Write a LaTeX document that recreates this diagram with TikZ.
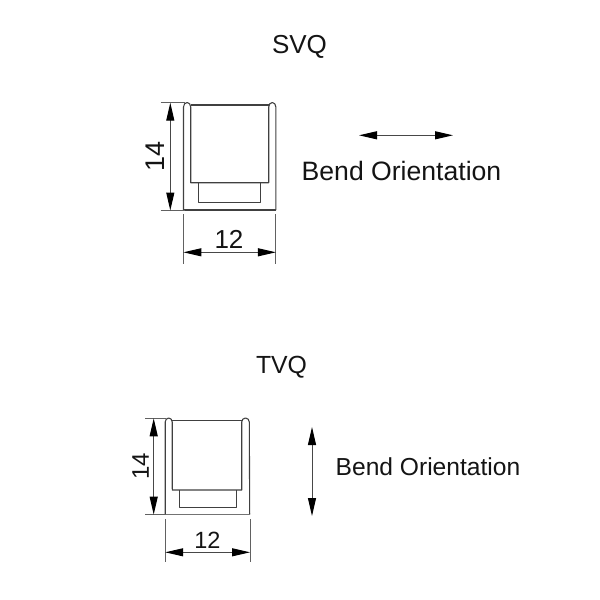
\documentclass[tikz,border=0pt]{standalone}
\usepackage{fontspec}
\setmainfont{Liberation Sans}
\usetikzlibrary{arrows.meta}
\tikzset{
 part/.style={draw=black!75,line width=1.1pt,line join=round},
 thin part/.style={draw=black!55,line width=0.9pt},
 ext/.style={draw=black!62,line width=0.9pt},
 dim/.style={draw=black!72,line width=1pt,{Stealth[length=18pt,width=8pt,inset=0pt,black]}-{Stealth[length=18pt,width=8pt,inset=0pt,black]}},
 lab/.style={text=black!92,inner sep=0pt,font=\fontsize{#1}{#1}\selectfont},
}
\begin{document}
\begin{tikzpicture}[x=1pt,y=-1pt]
\useasboundingbox (0,0) rectangle (600,600);
% --- SVQ ---
\node[lab=26] (title1) at (299.5,46.5) {SVQ};
\path[part] (183.5,210) -- (183.5,107) arc[start angle=180,end angle=360,x radius=3.6,y radius=4.5] -- (190.7,182.7) -- (268.7,182.7) -- (268.7,107) arc[start angle=180,end angle=360,x radius=3.6,y radius=4.5] -- (275.9,210);
\draw[part] (190.7,105) -- (268.7,105);
\draw[part] (198.3,182.7) -- (198.3,202.7) -- (260.7,202.7) -- (260.7,182.7);
\draw[part] (183.5,210) -- (275.9,210);
\coordinate (a1) at (170.3,102.7); \coordinate (a2) at (170.3,210.5);
\coordinate (b1) at (183.4,252.3); \coordinate (b2) at (275.9,252.3);
\draw[ext] (160.7,102.7) -- (185,102.7);
\draw[ext] (160.7,210.5) -- (185,210.5);
\draw[ext] (183.4,214) -- (183.4,263.5);
\draw[ext] (275.9,214) -- (275.9,263.5);
\draw[dim] (a1) -- (a2);
\draw[dim] (b1) -- (b2);
\node[lab=27,rotate=90] (h1) at (155.5,156.5) {14};
\node[lab=26] (w1) at (229,239.5) {12};
\coordinate (c1) at (359,135.3); \coordinate (c2) at (453,135.3);
\draw[dim] (c1) -- (c2);
\node[lab=26.6] (bend1) at (401.5,171) {Bend Orientation};
% --- TVQ ---
\node[lab=24.8] (title2) at (281.5,367.5) {TVQ};
\path[part] (165.2,514.3) -- (165.2,422) arc[start angle=180,end angle=360,x radius=3.5,y radius=4] -- (172.3,490) -- (241.7,490) -- (241.7,422) arc[start angle=180,end angle=360,x radius=3.8,y radius=4] -- (249.7,514.3);
\draw[part] (172.3,420.7) -- (241.7,420.7);
\draw[part] (179.3,490) -- (179.3,507.7) -- (236.7,507.7) -- (236.7,490);
\draw[thin part] (165.2,514.3) -- (249.7,514.3);
\coordinate (d1) at (153.7,418.3); \coordinate (d2) at (153.7,514.6);
\coordinate (e1) at (165.2,552.3); \coordinate (e2) at (250,552.3);
\draw[ext] (145,418.3) -- (166,418.3);
\draw[ext] (145,514.6) -- (166,514.6);
\draw[ext] (165.2,519) -- (165.2,562);
\draw[ext] (250,519) -- (250,562);
\draw[dim] (d1) -- (d2);
\draw[dim] (e1) -- (e2);
\node[lab=24,rotate=90] (h2) at (140.5,466.5) {14};
\node[lab=23.5] (w2) at (207.5,540.5) {12};
\coordinate (f1) at (312,427); \coordinate (f2) at (312,516);
\draw[dim] (f1) -- (f2);
\node[lab=24.6] (bend2) at (428,467) {Bend Orientation};
\end{tikzpicture}
\end{document}
